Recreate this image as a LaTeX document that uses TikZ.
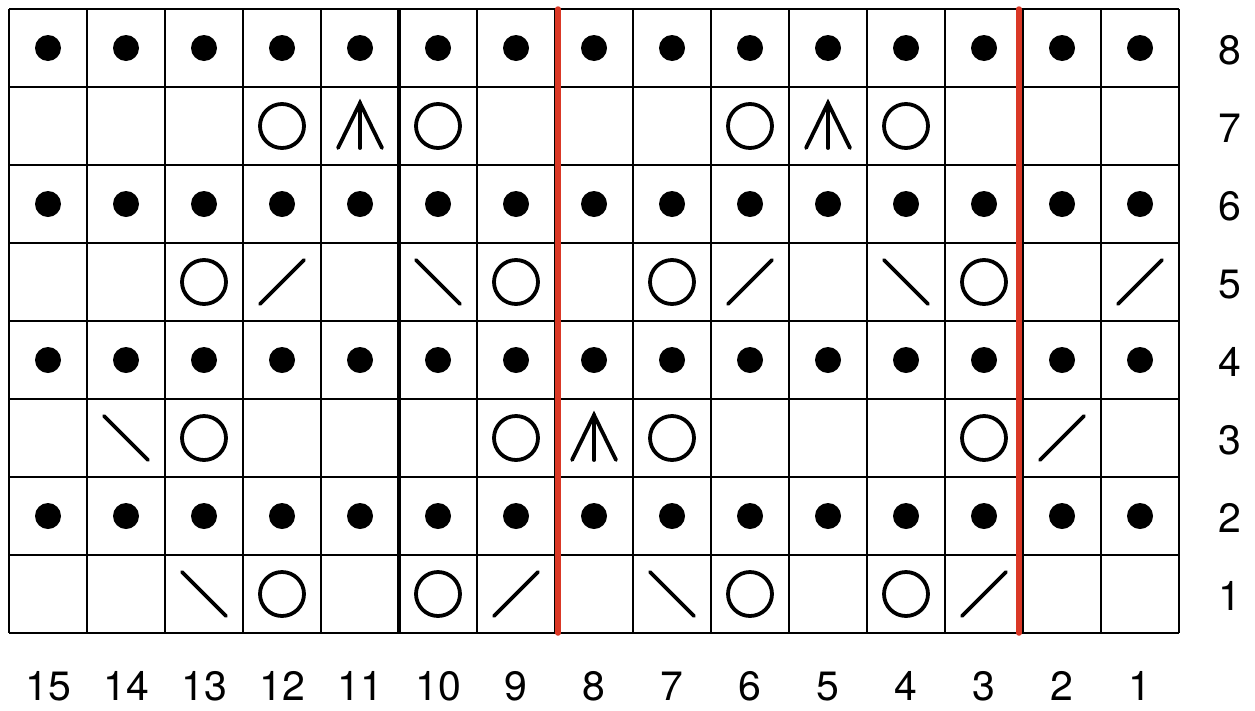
\documentclass[tikz,border=0pt]{standalone}
\usepackage{fontspec}
\setmainfont{TeX Gyre Heros}
\definecolor{chartred}{RGB}{218,56,38}
\tikzset{
  gridline/.style={line width=2.2pt, black},
  thickline/.style={line width=3.4pt, black},
  redline/.style={line width=5.5pt, chartred, line cap=round},
  symline/.style={line width=3.8pt, black, line cap=round, line join=miter},
  lbl/.style={font=\fontsize{41}{48}\selectfont, anchor=base, inner sep=0pt},
  dotst/.pic={\fill (0,0) circle (13);},
  yost/.pic={\draw[symline] (0,0) circle (22);},
  rst/.pic={\draw[symline] (-22,22) -- (22,-22);},
  lst/.pic={\draw[symline] (-22,-22) -- (22,22);},
  arst/.pic={\draw[symline] (-22,22) -- (0,-23) -- (22,22); \draw[symline] (0,-23) -- (0,22);},
}
\newcommand\stsym[3]{\pic at ({48+(15-#1)*78},{48+(8-#2)*78}) {#3};}
\begin{document}
\begin{tikzpicture}[x=1pt,y=-1pt]
\useasboundingbox (0,0) rectangle (1255,710);
% grid
\foreach \i in {0,...,15} \draw[gridline] ({9+78*\i},9) -- ({9+78*\i},633);
\foreach \j in {0,...,8} \draw[gridline] (9,{9+78*\j}) -- (1179,{9+78*\j});
\draw[thickline] (399,9) -- (399,633);
% dots rows
\foreach \r in {2,4,6,8} {\foreach \c in {1,...,15} {\stsym{\c}{\r}{dotst}}}
% row 7
\stsym{12}{7}{yost} \stsym{11}{7}{arst} \stsym{10}{7}{yost}
\stsym{6}{7}{yost} \stsym{5}{7}{arst} \stsym{4}{7}{yost}
% row 5
\stsym{13}{5}{yost} \stsym{12}{5}{rst} \stsym{10}{5}{lst} \stsym{9}{5}{yost}
\stsym{7}{5}{yost} \stsym{6}{5}{rst} \stsym{4}{5}{lst} \stsym{3}{5}{yost} \stsym{1}{5}{rst}
% row 3
\stsym{14}{3}{lst} \stsym{13}{3}{yost} \stsym{9}{3}{yost} \stsym{8}{3}{arst} \stsym{7}{3}{yost}
\stsym{3}{3}{yost} \stsym{2}{3}{rst}
% row 1
\stsym{13}{1}{lst} \stsym{12}{1}{yost} \stsym{10}{1}{yost} \stsym{9}{1}{rst}
\stsym{7}{1}{lst} \stsym{6}{1}{yost} \stsym{4}{1}{yost} \stsym{3}{1}{rst}
% red lines
\draw[redline] (558,9) -- (558,633);
\draw[redline] (1019,9) -- (1019,633);
% labels
\foreach \c in {1,...,15} \node[lbl] (c\c) at ({48+(15-\c)*78},700) {\c};
\foreach \r in {1,...,8} \node[lbl] (r\r) at (1230,{48+(8-\r)*78+16}) {\r};
\end{tikzpicture}
\end{document}
